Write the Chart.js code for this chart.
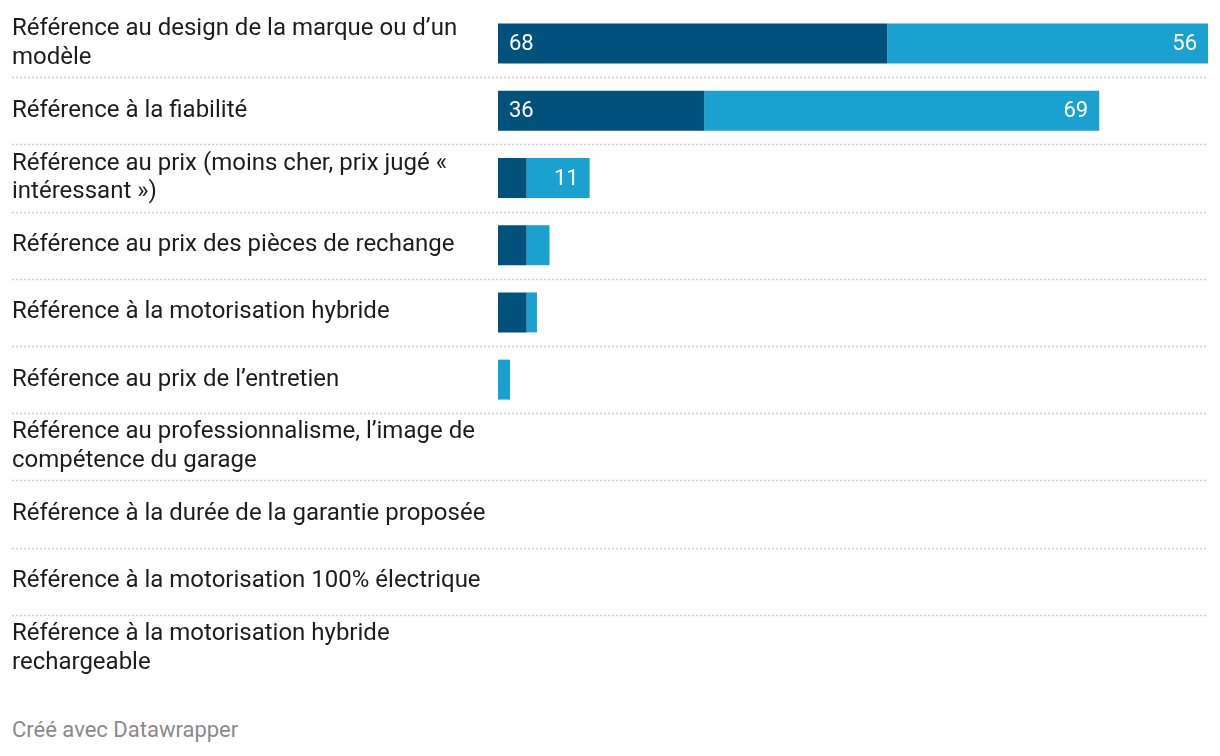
<!DOCTYPE html>
<html lang="fr">
<head>
<meta charset="utf-8">
<title>Références</title>
<script src="https://cdn.jsdelivr.net/npm/chart.js@4"></script>
<style>
    body { margin: 0; background: #fff; font-family: Roboto, sans-serif; }
    #wrap { position: relative; width: 1220px; height: 690px; }
    #credit { position: absolute; left: 12px; top: 717px; font-size: 22px; line-height: 26px; color: #8a8a8a; }
</style>
</head>
<body>
<div id="wrap"><canvas id="chart"></canvas></div>
<div id="credit">Créé avec Datawrapper</div>
<script>
// Catégories (libellés sur deux lignes quand ils sont longs)
const categories = [
    ['Référence au design de la marque ou d’un', 'modèle'],
    'Référence à la fiabilité',
    ['Référence au prix (moins cher, prix jugé «', 'intéressant »)'],
    'Référence au prix des pièces de rechange',
    'Référence à la motorisation hybride',
    'Référence au prix de l’entretien',
    ['Référence au professionnalisme, l’image de', 'compétence du garage'],
    'Référence à la durée de la garantie proposée',
    'Référence à la motorisation 100% électrique',
    ['Référence à la motorisation hybride', 'rechargeable']
];

// Valeurs
const serieFoncee = [68, 36, 5, 5, 5, 0, 0, 0, 0, 0];
const serieClaire = [56, 69, 11, 4, 1.8, 2.1, 0, 0, 0, 0];

const couleurFoncee = '#00527c';
const couleurClaire = '#1aa1cf';

// Étendue de l'axe : la plus longue barre empilée
const maxTotal = Math.max(...serieFoncee.map((v, i) => v + serieClaire[i]));

// Lignes pointillées entre les rangées
const separateurs = {
    id: 'separateurs',
    beforeDatasetsDraw(chart) {
        const { ctx, chartArea, scales } = chart;
        const y = scales.y;
        ctx.save();
        ctx.strokeStyle = '#cfcfcf';
        ctx.lineWidth = 1.5;
        ctx.setLineDash([2, 2]);
        for (let i = 0; i < categories.length - 1; i++) {
            const py = Math.round((y.getPixelForValue(i) + y.getPixelForValue(i + 1)) / 2) + 0.5;
            ctx.beginPath();
            ctx.moveTo(12, py);
            ctx.lineTo(chartArea.right, py);
            ctx.stroke();
        }
        ctx.restore();
    }
};

// Valeurs écrites dans les barres, si elles tiennent
const etiquettes = {
    id: 'etiquettes',
    afterDatasetsDraw(chart) {
        const ctx = chart.ctx;
        ctx.save();
        ctx.font = '22px Roboto';
        ctx.fillStyle = '#ffffff';
        ctx.textBaseline = 'middle';
        chart.data.datasets.forEach((ds, di) => {
            const meta = chart.getDatasetMeta(di);
            meta.data.forEach((bar, i) => {
                const v = ds.data[i];
                if (!v) return;
                const txt = String(Math.round(v));
                const largeur = Math.abs(bar.x - bar.base);
                if (ctx.measureText(txt).width + 22 > largeur) return;
                if (di === 0) {
                    ctx.textAlign = 'left';
                    ctx.fillText(txt, bar.base + 11, bar.y + 1);
                } else {
                    ctx.textAlign = 'right';
                    ctx.fillText(txt, bar.x - 11, bar.y + 1);
                }
            });
        });
        ctx.restore();
    }
};

new Chart(document.getElementById('chart'), {
    type: 'bar',
    data: {
        labels: categories,
        datasets: [
            { label: 'Série 1', data: serieFoncee, backgroundColor: couleurFoncee, barThickness: 40, inflateAmount: 0 },
            { label: 'Série 2', data: serieClaire, backgroundColor: couleurClaire, barThickness: 40, inflateAmount: 0 }
        ]
    },
    options: {
        indexAxis: 'y',
        responsive: true,
        maintainAspectRatio: false,
        animation: false,
        layout: { padding: { left: 12, right: 12, top: 10, bottom: 8 } },
        plugins: {
            legend: { display: false },
            tooltip: { enabled: false }
        },
        scales: {
            x: {
                stacked: true,
                display: false,
                min: 0,
                max: maxTotal
            },
            y: {
                stacked: true,
                grid: { display: false },
                border: { display: false },
                afterFit(scale) {
                    scale.width = 486;
                    scale.paddingTop = 0;
                    scale.paddingBottom = 0;
                },
                ticks: {
                    autoSkip: false,
                    crossAlign: 'far',
                    padding: 0,
                    color: '#1d1d1d',
                    font: { family: 'Roboto', size: 24, lineHeight: 1.2 }
                }
            }
        }
    },
    plugins: [separateurs, etiquettes]
});
</script>
</body>
</html>
